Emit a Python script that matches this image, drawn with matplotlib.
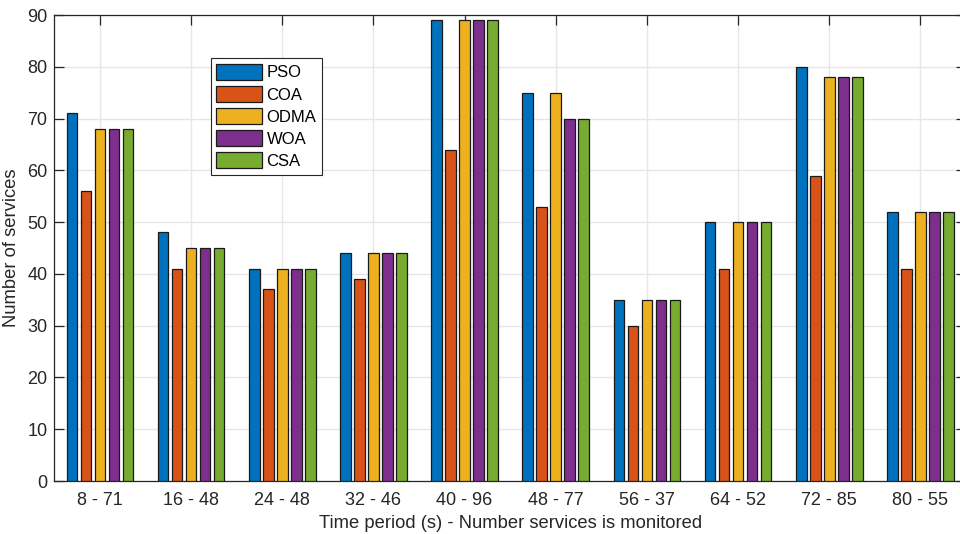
import numpy as np
import matplotlib
matplotlib.use('Agg')
import matplotlib.pyplot as plt

plt.rcParams['font.family'] = ['Liberation Sans', 'DejaVu Sans']

groups = ['8 - 71', '16 - 48', '24 - 48', '32 - 46', '40 - 96',
          '48 - 77', '56 - 37', '64 - 52', '72 - 85', '80 - 55']
names = ['PSO', 'COA', 'ODMA', 'WOA', 'CSA']
pso = [71, 48, 41, 44, 89, 75, 35, 50, 80, 52]
coa = [56, 41, 37, 39, 64, 53, 30, 41, 59, 41]
odma = [68, 45, 41, 44, 89, 75, 35, 50, 78, 52]
woa = [68, 45, 41, 44, 89, 70, 35, 50, 78, 52]
csa = [68, 45, 41, 44, 89, 70, 35, 50, 78, 52]
colors = ['#0072BD', '#D95319', '#EDB120', '#7E2F8E', '#77AC30']

txt = '#262626'
fig = plt.figure(figsize=(9.6, 5.34), dpi=100)
# right edge of the axes sits just past the picture, like the original
ax = fig.add_axes([54.3 / 960, 53 / 534, 911.7 / 960, 466 / 534])

x = np.arange(1, len(groups) + 1)
step = 0.1535
for i, (vals, name) in enumerate(zip([pso, coa, odma, woa, csa], names)):
    ax.bar(x + (i - 2) * step, vals, width=0.117, color=colors[i],
           edgecolor='#1a1a1a', linewidth=0.9, label=name, zorder=3)

ax.set_xlim(0.5, 10.5)
ax.set_ylim(0, 90)
ax.set_xticks(x)
ax.set_xticklabels(groups)
ax.set_yticks(range(0, 91, 10))
ax.grid(True, color='#e6e6e6', linewidth=1.0, zorder=0)
ax.set_axisbelow(True)
ax.tick_params(direction='in', length=7, width=0.9, top=True, right=True,
               colors=txt, labelsize=13)
ax.tick_params(axis='x', pad=8)
ax.tick_params(axis='y', pad=5)
for s in ax.spines.values():
    s.set_color(txt)
    s.set_linewidth(0.9)

ax.set_xlabel('Time period (s) - Number services is monitored', fontsize=13.2, color=txt, labelpad=4)
ax.set_ylabel('Number of services', fontsize=13.2, color=txt, labelpad=5)

leg = ax.legend(loc='upper left', bbox_to_anchor=(0.1715, 0.908), fontsize=12,
                fancybox=False, edgecolor='#262626', framealpha=1,
                handlelength=2.75, handleheight=1.1, handletextpad=0.25,
                labelspacing=0.33, borderpad=0.35, borderaxespad=0)
leg.get_frame().set_linewidth(0.8)
for t in leg.get_texts():
    t.set_color('#000000')

fig.savefig('out.png', dpi=100)
